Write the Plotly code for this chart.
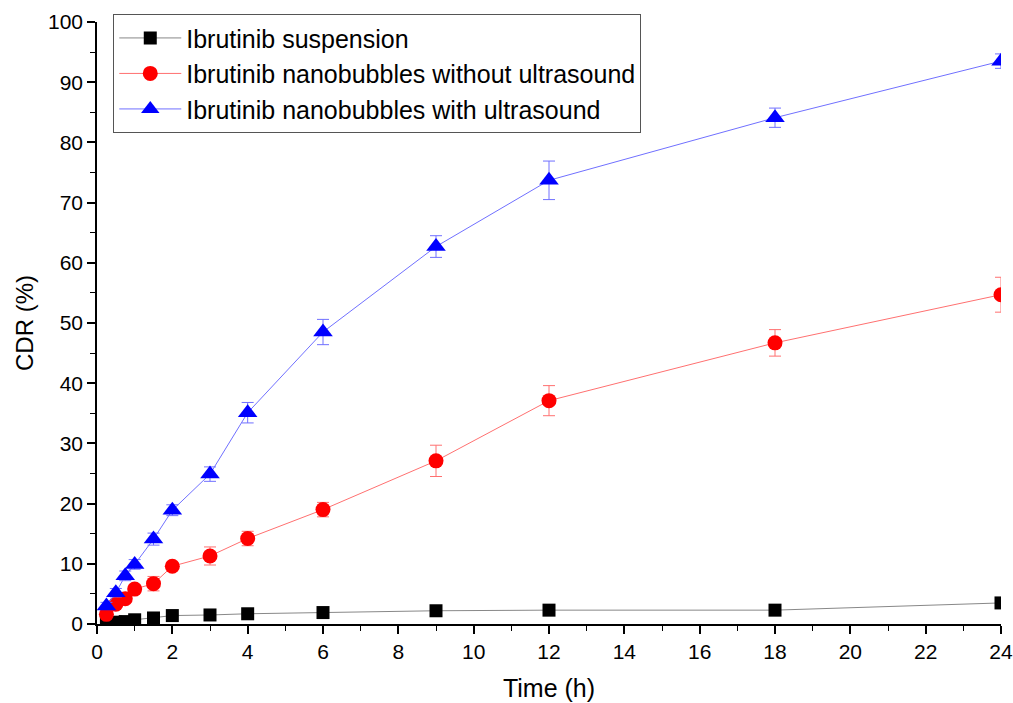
import plotly.graph_objects as go

time_h = [0.25, 0.5, 0.75, 1, 1.5, 2, 3, 4, 6, 9, 12, 18, 24]

susp = [0.2, 0.3, 0.4, 0.7, 1.0, 1.4, 1.5, 1.7, 1.9, 2.2, 2.3, 2.3, 3.5]
susp_err = [0.1, 0.1, 0.1, 0.1, 0.2, 0.2, 0.2, 0.2, 0.2, 0.3, 0.3, 0.3, 0.4]

nb_no_us = [1.6, 3.3, 4.2, 5.8, 6.7, 9.6, 11.3, 14.2, 19.0, 27.1, 37.1, 46.7, 54.7]
nb_no_us_err = [0.5, 0.6, 0.6, 0.7, 1.2, 0.6, 1.5, 1.2, 1.2, 2.6, 2.5, 2.2, 2.9]

nb_us = [3.0, 5.2, 8.0, 9.9, 14.1, 18.9, 24.9, 35.1, 48.5, 62.7, 73.7, 84.1, 93.5]
nb_us_err = [0.6, 0.7, 0.8, 0.8, 1.0, 0.9, 1.2, 1.7, 2.1, 1.8, 3.2, 1.6, 1.2]

names = ["Ibrutinib suspension",
         "Ibrutinib nanobubbles without ultrasound",
         "Ibrutinib nanobubbles with ultrasound"]

fig = go.Figure()

series = [
    (susp, susp_err, names[0], "black", "#888888", "square", 13),
    (nb_no_us, nb_no_us_err, names[1], "#ff0000", "#ff7070", "circle", 15),
    (nb_us, nb_us_err, names[2], "#0000ff", "#7070ff", "triangle-up", 17),
]

for y, e, name, mc, lc, sym, sz in series:
    fig.add_trace(go.Scatter(
        x=time_h, y=y, name=name, mode="lines+markers",
        line=dict(color=lc, width=1),
        marker=dict(color=mc, symbol=sym, size=sz),
        error_y=dict(type="data", array=e, visible=True, color=lc, thickness=1, width=6),
    ))

font_family = "Liberation Sans, Arial, sans-serif"

fig.update_layout(
    width=1013, height=703,
    margin=dict(l=97, r=12, t=22, b=79),
    paper_bgcolor="white", plot_bgcolor="white",
    font=dict(family=font_family, color="black"),
    showlegend=True,
    legend=dict(
        x=0.018, y=1.013, xanchor="left", yanchor="top",
        bordercolor="#555555", borderwidth=1,
        font=dict(size=25, family=font_family),
        bgcolor="white", tracegroupgap=0, itemwidth=62,
    ),
)

fig.update_xaxes(
    range=[0, 24], tickmode="array", tickvals=list(range(0, 25, 2)),
    ticks="outside", ticklen=8, tickwidth=1.5, tickcolor="black",
    minor=dict(dtick=1, ticks="outside", ticklen=5, tickcolor="black", tickwidth=1.2),
    showline=True, linecolor="black", linewidth=1.5,
    showgrid=False, zeroline=False, automargin=False,
    tickfont=dict(size=21),
    title=dict(text="Time (h)", font=dict(size=25), standoff=18),
)
fig.update_yaxes(
    range=[0, 100], tickmode="array", tickvals=list(range(0, 101, 10)),
    ticks="outside", ticklen=8, tickwidth=1.5, tickcolor="black",
    minor=dict(dtick=5, ticks="outside", ticklen=5, tickcolor="black", tickwidth=1.2),
    showline=True, linecolor="black", linewidth=1.5,
    showgrid=False, zeroline=False, automargin=False,
    tickfont=dict(size=21),
    title=dict(text="CDR (%)", font=dict(size=24), standoff=8),
)

fig.write_html("out.html")
